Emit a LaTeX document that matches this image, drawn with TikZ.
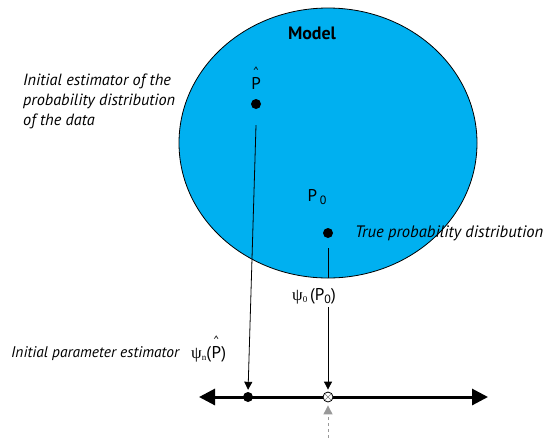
\documentclass[tikz,border=0pt]{standalone}
\usepackage{fontspec}
\setmainfont{PT Sans}
\newfontfamily\serifgreek{Liberation Serif}
\usetikzlibrary{shapes.geometric,arrows.meta}
\definecolor{modelblue}{HTML}{00B0F0}
\newlength\tmpw
\AtBeginDocument{%
  \settowidth\tmpw{\fontsize{10}{12}\selectfont\itshape True probability distribution}%
  \pgfmathsetmacro\fsA{10*188/\tmpw}\global\let\fsA\fsA
  \settowidth\tmpw{\fontsize{10}{12}\selectfont\bfseries Model}%
  \pgfmathsetmacro\fsB{10*48/\tmpw}\global\let\fsB\fsB
  \settowidth\tmpw{\fontsize{10}{12}\selectfont\itshape Initial parameter estimator}%
  \pgfmathsetmacro\fsC{10*168/\tmpw}\global\let\fsC\fsC
  \settowidth\tmpw{\fontsize{10}{12}\selectfont\itshape probability distribution}%
  \pgfmathsetmacro\fsD{10*152/\tmpw}\global\let\fsD\fsD
}
\newcommand{\psisym}[1]{{\serifgreek ψ}\raisebox{-0.3ex}{\serifgreek\fontsize{9}{9}\selectfont #1}}
\tikzset{
  lbl/.style={inner sep=1pt, font=\fontsize{\fsA}{20}\selectfont\itshape},
  plbl/.style={inner sep=1pt, font=\fontsize{17}{19}\selectfont},
  pbare/.style={inner sep=0pt, font=\fontsize{17}{19}\selectfont},
  hatnode/.style={inner sep=0pt, anchor=base, font=\fontsize{12}{12}\selectfont},
  dotnode/.style={circle, fill=black, inner sep=0pt, minimum size=10pt},
  thinarrow/.style={draw=black, line width=0.8pt, -{Triangle[length=8pt,width=8pt]}},
  thinline/.style={draw=black, line width=0.8pt},
  axis/.style={draw=black, line width=3pt, {Triangle[length=16pt,width=16pt]}-{Triangle[length=16pt,width=16pt]}},
  grayarrow/.style={draw=gray!80, line width=1pt, dashed, -{Triangle[length=9pt,width=9pt]}}
}
\begin{document}
\begin{tikzpicture}[x=1pt,y=-1pt]
\useasboundingbox (0,0) rectangle (545,440);
% model ellipse
\node[ellipse, draw=black, line width=0.8pt, fill=modelblue, minimum width=298pt, minimum height=270pt, inner sep=0pt] (model) at (328,143) {};
\node[font=\fontsize{\fsB}{18}\selectfont\bfseries, inner sep=1pt] (modellbl) at (312,33) {Model};
% P hat
\node[pbare] (phatlbl) at (256,83) {P};
\node[hatnode] (phathat) at ([yshift=1pt]phatlbl.north) {\textasciicircum};
\node[dotnode] (phat) at (256,104) {};
% P0
\node[plbl] (p0lbl) at (317,197) {P\,\raisebox{-0.45ex}{\fontsize{12}{12}\selectfont 0}};
\node[dotnode] (p0) at (328,233) {};
% texts
\node[lbl, font=\fontsize{\fsD}{20}\selectfont\itshape, anchor=west, align=left] (esttext) at (22,101) {Initial estimator of the\\probability distribution\\of the data};
\node[lbl, anchor=west] (truetext) at (354,233) {True probability distribution};
\node[lbl, font=\fontsize{\fsC}{20}\selectfont\itshape, anchor=west] (paramtext) at (10,354) {Initial parameter estimator};
\node[pbare, anchor=base west] (psinpre) at (191,358) {\psisym{n}(};
\node[pbare, anchor=base west] (psinP) at (psinpre.base east) {P};
\node[pbare, anchor=base west] (psinpost) at (psinP.base east) {)};
\node[hatnode] (psinhat) at ([yshift=1pt]psinP.north) {\textasciicircum};
\node[plbl] (psi0lbl) at (314,296) {\psisym{0}\,(P\raisebox{-0.45ex}{\fontsize{12}{12}\selectfont 0})};
% number line
\coordinate (axL) at (199,397);
\coordinate (axR) at (488,397);
\draw[axis] (axL) -- (axR);
\node[dotnode] (est) at (248,397) {};
\node[circle, draw=black, line width=0.8pt, fill=white, inner sep=0pt, minimum size=10pt,
  path picture={
    \draw[gray, line width=0.6pt] (path picture bounding box.north west) -- (path picture bounding box.south east);
    \draw[gray, line width=0.6pt] (path picture bounding box.north east) -- (path picture bounding box.south west);
  }] (true) at (328,397) {};
\coordinate (below) at (328,438);
% connectors
\draw[thinarrow, shorten >=2pt] ([yshift=-16pt]phat.south) -- (est.north);
\draw[thinline] ([yshift=-10pt]p0.south) -- (p0 |- model.south);
\draw[thinarrow, shorten >=2pt] ([yshift=-2pt]true |- psi0lbl.south) -- (true.north);
\draw[grayarrow, shorten >=3pt] (below) -- (true.south);
\end{tikzpicture}
\end{document}
